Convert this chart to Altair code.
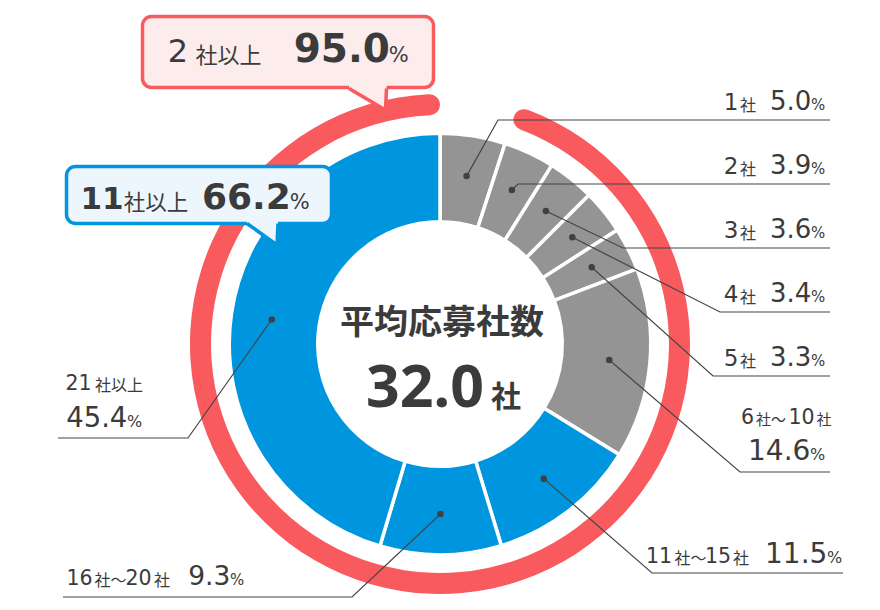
import math
import re
import pandas as pd
import altair as alt

# ---- data ----
categories = ["1社", "2社", "3社", "4社", "5社", "6社～10社", "11社～15社", "16社～20社", "21社以上"]
shares = [5.0, 3.9, 3.6, 3.4, 3.3, 14.6, 11.5, 9.3, 45.4]
groups = ["1～10社"] * 6 + ["11社以上"] * 3
ring_parts = ["1社", "2社以上"]
ring_shares = [5.0, 95.0]
callout_titles = ["2社以上", "11社以上"]
callout_values = [sum(shares[1:]), sum(shares[6:])]
center_title = "平均応募社数"
center_value = 32.0

# ---- styling / layout ----
RED = "#F85A5E"
BLUE = "#0095DF"
GRAY = "#949494"
INK = "#3b3b3b"
FONTS = {"num": "DejaVu Sans", "big": "Noto Sans", "jp": "Noto Sans CJK JP"}

CX, CY = 440, 344
R_IN, R_OUT = 124, 209
RING_IN, RING_OUT = 229, 250
DOT_R = 170

xs = alt.Scale(domain=[8, 872], range=[0, 864], nice=False, zero=False)
ys = alt.Scale(domain=[8, 602], range=[0, 594], nice=False, zero=False)


def X(f):
    return alt.X(f, scale=xs, axis=None)


def Y(f):
    return alt.Y(f, scale=ys, axis=None)


# donut
donut = pd.DataFrame({"cat": categories, "share": shares, "grp": groups,
                      "idx": range(len(categories))})
donut["cx"] = CX
donut["cy"] = CY

ring = pd.DataFrame({"part": ring_parts, "share": ring_shares, "idx": [0, 1]})
ring["cx"] = CX
ring["cy"] = CY

ring_chart = alt.Chart(ring).mark_arc(
    innerRadius=RING_IN, outerRadius=RING_OUT, cornerRadius=(RING_OUT - RING_IN) / 2
).encode(
    theta=alt.Theta("share:Q", stack=True),
    order=alt.Order("idx:Q"),
    x=X("cx:Q"), y=Y("cy:Q"),
    color=alt.when(alt.datum.part == "2社以上").then(alt.value(RED)).otherwise(alt.value("rgba(0,0,0,0)")),
)

donut_chart = alt.Chart(donut).mark_arc(
    innerRadius=R_IN - 1.75, outerRadius=R_OUT + 1.75, stroke="white", strokeWidth=3.5
).encode(
    theta=alt.Theta("share:Q", stack=True),
    order=alt.Order("idx:Q"),
    x=X("cx:Q"), y=Y("cy:Q"),
    color=alt.Color("grp:N", scale=alt.Scale(domain=["1～10社", "11社以上"], range=[GRAY, BLUE]), legend=None),
)

# leader dots at the middle of each slice
cum = donut["share"].cumsum() - donut["share"] / 2
ang = cum / 100 * 2 * math.pi
donut["dx"] = CX + DOT_R * ang.apply(math.sin)
donut["dy"] = CY - DOT_R * ang.apply(math.cos)

leader_path = {
    "1社": [(498, 120), (830, 120)],
    "2社": [(518, 184), (830, 184)],
    "3社": [(623, 248), (830, 248)],
    "4社": [(720, 312), (830, 312)],
    "5社": [(713, 376), (830, 376)],
    "6社～10社": [(740, 472), (830, 472)],
    "11社～15社": [(652, 573), (843, 573)],
    "16社～20社": [(352, 597), (63, 597)],
    "21社以上": [(188, 438), (58, 438)],
}
rows = []
for _, r in donut.iterrows():
    pts = [(r["dx"], r["dy"])] + leader_path[r["cat"]]
    for k, (px, py) in enumerate(pts):
        rows.append({"cat": r["cat"], "seq": k, "x": px, "y": py})
leaders = pd.DataFrame(rows)

leader_chart = alt.Chart(leaders).mark_line(color="#454545", strokeWidth=1.2).encode(
    x=X("x:Q"), y=Y("y:Q"), detail="cat:N", order="seq:Q"
)
dot_chart = alt.Chart(donut).mark_circle(size=42, color="#404040", opacity=1).encode(
    x=X("dx:Q"), y=Y("dy:Q")
)

# callout boxes
boxes = pd.DataFrame({
    "name": callout_titles,
    "x": [142.5, 66.5], "x2": [433.5, 331.5],
    "y": [16.5, 166.5], "y2": [87.5, 223.5],
    "fill": ["#FDECEC", "#EEF6FD"], "stroke": [RED, BLUE],
})
box_chart = alt.Chart(boxes).mark_rect(cornerRadius=9, strokeWidth=3.5).encode(
    x=X("x:Q"), x2="x2:Q", y=Y("y:Q"), y2="y2:Q",
    fill=alt.Fill("fill:N", scale=None), stroke=alt.Stroke("stroke:N", scale=None),
)

tail_fill = pd.DataFrame({
    "name": ["2社以上"] * 3 + ["11社以上"] * 3,
    "x": [349, 385.5, 386.5, 247, 277, 278],
    "y": [84, 84, 84, 220, 220, 220],
    "y2": [88.5, 110, 88.5, 223.5, 245, 223.5],
    "fill": ["#FDECEC"] * 3 + ["#EEF6FD"] * 3,
})
tail_area = alt.Chart(tail_fill).mark_area().encode(
    x=X("x:Q"), y=Y("y:Q"), y2="y2:Q", detail="name:N",
    fill=alt.Fill("fill:N", scale=None),
)
tail_edge = pd.DataFrame({
    "name": ["2社以上"] * 3 + ["11社以上"] * 3,
    "seq": [0, 1, 2] * 2,
    "x": [349, 385.5, 386.5, 247, 277, 278],
    "y": [88.5, 110, 88.5, 223.5, 245, 223.5],
    "stroke": [RED] * 3 + [BLUE] * 3,
})
tail_line = alt.Chart(tail_edge).mark_line(strokeWidth=3.5, strokeJoin="round").encode(
    x=X("x:Q"), y=Y("y:Q"), detail="name:N", order="seq:Q",
    stroke=alt.Stroke("stroke:N", scale=None),
)

# ---- text pieces ----
pieces = []


def place(text, left, right, base, size, kind, bold=False):
    """Centre a piece on the extent it has in the reference."""
    pieces.append((text, (left + right) / 2, base, size, kind, bold, "center"))


def place_value(text, pct_left, pct_size, base, size, bold=False):
    """Number set just left of the % sign that follows it."""
    pieces.append((text, pct_left - 1 + 0.05 * size, base, size, "num", bold, "right"))
    pieces.append(("%", pct_left + 1 - 0.06 * pct_size, base, pct_size, "num", False, "left"))


row_ext = dict(name=[(725, 737), (741, 755)], ns=(23, 16), pct=811, vs=26, ps=15)
label_layout = {
    "6社～10社": dict(name=[(742, 753), (755, 787), (788, 815), (817, 831)], nb=424, ns=(20.5, 15),
                    pct=810, vb=460, vs=28, ps=16),
    "11社～15社": dict(name=[(648, 670), (674, 707), (708, 728), (732, 750)], nb=563, ns=(20.5, 16),
                     pct=827, vb=563, vs=28, ps=16),
    "16社～20社": dict(name=[(67, 92), (95, 126), (127, 150), (154, 170)], nb=585, ns=(20.5, 16),
                     pct=230, vb=585, vs=26.5, ps=15),
    "21社以上": dict(name=[(67, 90), (96, 142)], nb=390, ns=(20.5, 16),
                   pct=127, vb=427, vs=27.5, ps=16),
}
row_bases = [110, 174, 238, 302, 366]

for i, (cat, v) in enumerate(zip(categories, shares)):
    if i < 5:
        L = dict(row_ext, nb=row_bases[i], vb=row_bases[i])
    else:
        L = label_layout[cat]
    for part, (a, b) in zip(re.findall(r"\d+|\D+", cat), L["name"]):
        if part.isdigit():
            place(part, a, b, L["nb"], L["ns"][0], "num")
        else:
            place(part, a, b, L["nb"] + 1, L["ns"][1], "jp")
    place_value(f"{v:.1f}", L["pct"], L["ps"], L["vb"], L["vs"])

callout_layout = [
    dict(name=[(169, 187), (194, 263)], b=62, ds=32, dbold=False, ks=22,
         pct=389, vs=39, ps=21),
    dict(name=[(86, 118), (124, 188)], b=209, ds=31, dbold=True, ks=21.5,
         pct=290, vs=36, ps=21),
]
for title, v, L in zip(callout_titles, callout_values, callout_layout):
    for part, (a, b) in zip(re.findall(r"\d+|\D+", title), L["name"]):
        if part.isdigit():
            place(part, a, b, L["b"], L["ds"], "num", L["dbold"])
        else:
            place(part, a, b, L["b"] + 1, L["ks"], "jp")
    place_value(f"{v:.1f}", L["pct"], L["ps"], L["b"], L["vs"], True)

place(center_title, 339, 545, 334, 34, "jp", True)
place(f"{center_value:.1f}", 368, 482, 407, 59, "big", True)
place("社", 492, 520, 407, 30, "jp", True)

texts = pd.DataFrame(pieces, columns=["text", "x", "y", "size", "kind", "bold", "align"])

text_layers = []
for (kind, bold, align), sub in texts.groupby(["kind", "bold", "align"]):
    text_layers.append(
        alt.Chart(sub).mark_text(
            font=FONTS[kind],
            fontWeight="bold" if bold else "normal",
            align=align, baseline="alphabetic", color=INK,
        ).encode(
            x=X("x:Q"), y=Y("y:Q"), text="text:N",
            size=alt.Size("size:Q", scale=None),
        )
    )

chart = alt.layer(
    ring_chart, donut_chart, leader_chart, dot_chart,
    box_chart, tail_area, tail_line, *text_layers
).properties(
    width=864, height=594, padding=0, autosize="none", background="white"
).configure_view(strokeWidth=0)

chart.save("out.html", embed_options={"renderer": "svg", "actions": False})
